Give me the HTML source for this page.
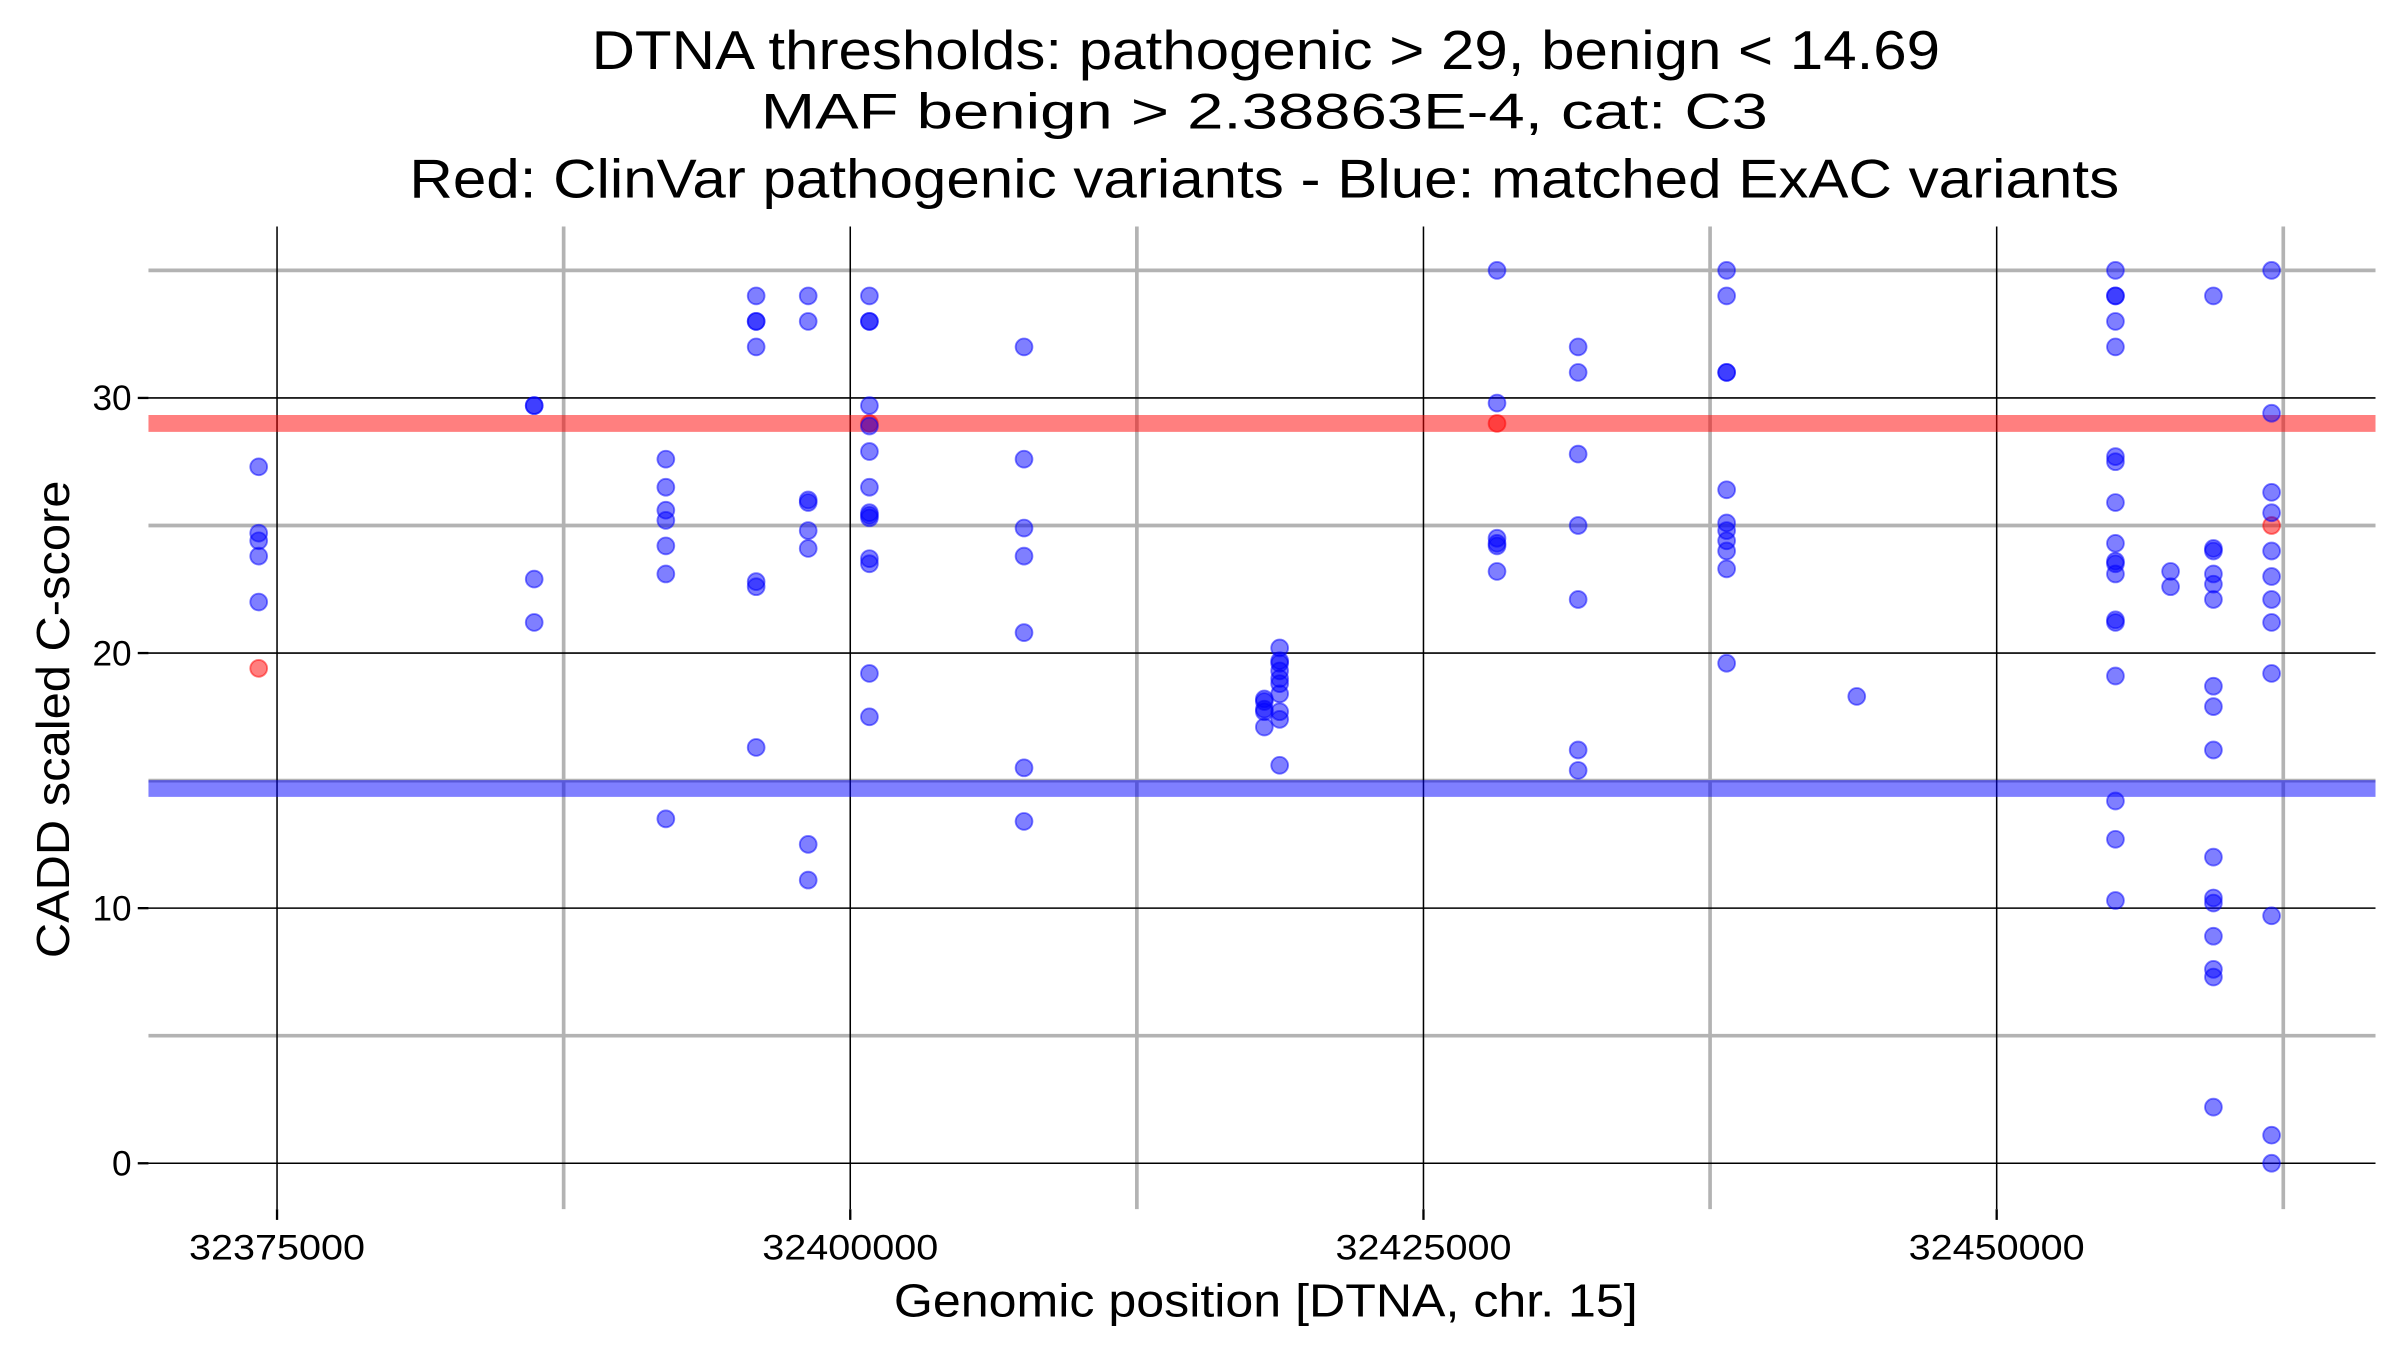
<!DOCTYPE html>
<html><head><meta charset="utf-8"><style>
html,body{margin:0;padding:0;background:#fff;}
svg{display:block;font-family:"Liberation Sans",Arial,sans-serif;}
</style></head><body>
<svg id="chart" width="2400" height="1350" viewBox="0 0 1568 882" preserveAspectRatio="none" xmlns="http://www.w3.org/2000/svg">
<g text-anchor="middle" fill="#000">
<text x="827" y="45" font-size="36" textLength="881" lengthAdjust="spacingAndGlyphs">DTNA thresholds: pathogenic &gt; 29, benign &lt; 14.69</text>
<text x="826" y="84" font-size="33" textLength="658" lengthAdjust="spacingAndGlyphs">MAF benign &gt; 2.38863E-4, cat: C3</text>
<text x="826" y="129" font-size="36" textLength="1117" lengthAdjust="spacingAndGlyphs">Red: ClinVar pathogenic variants - Blue: matched ExAC variants</text>
</g>
<g id="grid"></g>
<g id="marks"></g>
<g id="axes"></g>
<text x="827" y="860" font-size="30" text-anchor="middle" textLength="486" lengthAdjust="spacingAndGlyphs">Genomic position [DTNA, chr. 15]</text>
<text transform="translate(45,470) rotate(-90)" font-size="30" text-anchor="middle" textLength="312" lengthAdjust="spacingAndGlyphs">CADD scaled C-score</text>
</svg>
<script>
const xTicks = [32375000, 32400000, 32425000, 32450000];
const xMinor = [32387500, 32412500, 32437500, 32462500];
const yTicks = [0, 10, 20, 30];
const yMinor = [5, 15, 25, 35];
const pathogenicThreshold = 29;
const benignThreshold = 14.69;
// blue ExAC variants: positions and scores
const bluePos = [];
const blueScore = [];
const columns = [
 [32374200,[27.3,24.7,24.4,23.8,22.0]],
 [32386216,[29.7,29.7,22.9,21.2]],
 [32391957,[27.6,26.5,25.6,25.2,24.2,23.1,13.5]],
 [32395896,[34,33,33,32,22.8,22.6,16.3]],
 [32398166,[34,33,26.0,25.9,24.8,24.1,12.5,11.1]],
 [32400836,[34,33,33,29.7,28.9,27.9,26.5,25.5,25.3,25.4,23.7,23.5,19.2,17.5]],
 [32407579,[32,27.6,24.9,23.8,20.8,15.5,13.4]],
 [32418060,[18.2,18.1,17.8,17.7,17.1]],
 [32418728,[20.2,19.7,19.6,19.3,19.0,18.8,18.4,17.7,17.4,15.6]],
 [32428208,[35,29.8,24.5,24.3,24.2,23.2]],
 [32431746,[32,31,27.8,25.0,22.1,16.2,15.4]],
 [32438222,[35,34,31,31,26.4,25.1,24.8,24.4,24.0,23.3,19.6]],
 [32443897,[18.3]],
 [32455180,[35,34,34,33,32,27.7,27.5,25.9,24.3,23.6,23.5,23.1,21.3,21.2,19.1,14.2,12.7,10.3]],
 [32457584,[23.2,22.6]],
 [32459453,[34,24.1,24.0,23.1,22.7,22.1,18.7,17.9,16.2,12.0,10.4,10.2,8.9,7.6,7.3,2.2]],
 [32461990,[35,29.4,26.3,25.5,24.0,23.0,22.1,21.2,19.2,9.7,1.1,0.0]]
];
columns.forEach(c => c[1].forEach(s => { bluePos.push(c[0]); blueScore.push(s); }));
// red ClinVar pathogenic variants
const redPos = [32374200, 32400836, 32428208, 32461990];
const redScore = [19.4, 29.0, 29.0, 25.0];

const PX0 = 97, PX1 = 1552, PY0 = 148, PY1 = 790;
function xs(v){ return 181 + (v - 32375000) * 374.5 / 25000; }
function ys(v){ return 760 - v * 16.667; }
const NS = "http://www.w3.org/2000/svg";
function mk(parent, tag, attrs){ const e = document.createElementNS(NS, tag); for (const k in attrs) e.setAttribute(k, attrs[k]); parent.appendChild(e); return e; }
const grid = document.getElementById('grid'), marks = document.getElementById('marks'), axes = document.getElementById('axes');

yMinor.forEach(v => { const l = mk(grid,'line',{x1:PX0,x2:PX1,y1:ys(v),y2:ys(v),stroke:'#b3b3b3','stroke-width':2.4});
   });
xMinor.forEach(v => { const l = mk(grid,'line',{x1:xs(v),x2:xs(v),y1:PY0,y2:PY1,stroke:'#b3b3b3','stroke-width':2.4});
   });
yTicks.forEach(v => { const l = mk(grid,'line',{x1:PX0,x2:PX1,y1:ys(v),y2:ys(v),stroke:'#000','stroke-width':1});
   });
xTicks.forEach(v => { const l = mk(grid,'line',{x1:xs(v),x2:xs(v),y1:PY0,y2:PY1,stroke:'#000','stroke-width':1});
   });

const rl = mk(grid,'line',{x1:PX0,x2:PX1,y1:ys(pathogenicThreshold),y2:ys(pathogenicThreshold),stroke:'rgba(255,0,0,0.5)','stroke-width':11});
 
const bl = mk(grid,'line',{x1:PX0,x2:PX1,y1:ys(benignThreshold),y2:ys(benignThreshold),stroke:'rgba(0,0,255,0.5)','stroke-width':11});
 

redPos.forEach((p,i) => { const c = mk(marks,'circle',{cx:xs(p),cy:ys(redScore[i]),r:5.5,fill:'rgba(255,0,0,0.5)',stroke:'rgba(255,0,0,0.5)','stroke-width':1.2});
   });
bluePos.forEach((p,i) => { const c = mk(marks,'circle',{cx:xs(p),cy:ys(blueScore[i]),r:5.5,fill:'rgba(0,0,255,0.5)',stroke:'rgba(0,0,255,0.5)','stroke-width':1.2});
   });

yTicks.forEach(v => {
 const t = mk(axes,'line',{x1:90,x2:97,y1:ys(v),y2:ys(v),stroke:'#000','stroke-width':1.5});
  
 const tx = mk(axes,'text',{x:86,y:ys(v)+8,'font-size':23,'text-anchor':'end'}); tx.textContent = v;
  
});
xTicks.forEach(v => {
 const t = mk(axes,'line',{x1:xs(v),x2:xs(v),y1:790,y2:797,stroke:'#000','stroke-width':1.5});
  
 const tx = mk(axes,'text',{x:xs(v),y:823,'font-size':23,'text-anchor':'middle',textLength:115,lengthAdjust:'spacingAndGlyphs'}); tx.textContent = v;
  
});
</script>
</body></html>
